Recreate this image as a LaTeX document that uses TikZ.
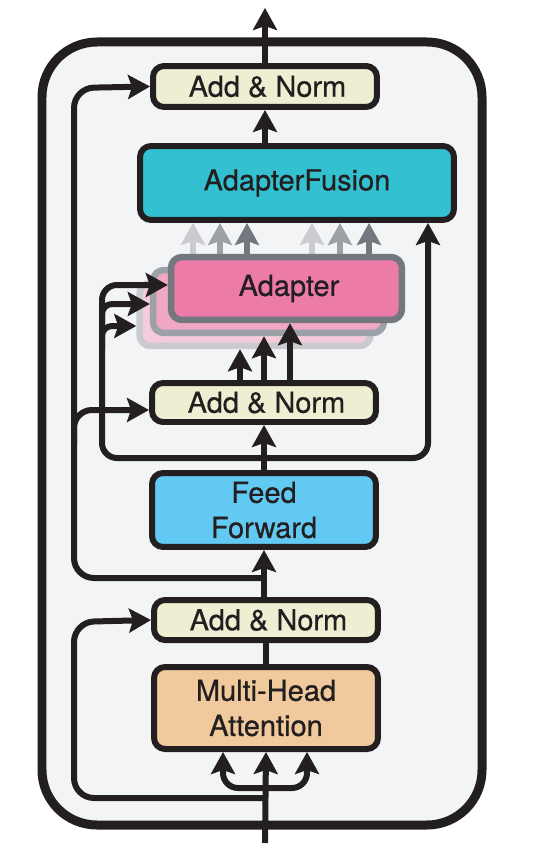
\documentclass[tikz,border=0pt]{standalone}
\usepackage{fontspec}
\setmainfont{TeX Gyre Heros}[FakeBold=0.6]
\usetikzlibrary{arrows.meta}

\definecolor{ink}{HTML}{231F20}
\definecolor{panel}{HTML}{F3F4F6}
\definecolor{normfill}{HTML}{EEEFD2}
\definecolor{fusionfill}{HTML}{33C1D1}
\definecolor{ffill}{HTML}{62C9F2}
\definecolor{attnfill}{HTML}{F0C99C}
\definecolor{adaptA}{HTML}{EC7BA8}
\definecolor{adaptB}{HTML}{F0A7C4}
\definecolor{adaptC}{HTML}{F5CADB}
\definecolor{greyA}{HTML}{72787E}
\definecolor{greyB}{HTML}{9BA1A7}
\definecolor{greyC}{HTML}{C9CBCE}

\begin{document}
\begin{tikzpicture}[x=0.02cm, y=-0.02cm,
  box/.style={draw=ink, line width=0.12cm, rounded corners=0.22cm, text=ink,
    font=\fontsize{16.5}{20}\selectfont, align=center, inner sep=0pt,
    minimum width=4.48cm},
  adbox/.style={box, line width=0.13cm, minimum width=4.62cm, minimum height=1.26cm},
  arr/.style={draw=ink, line width=0.12cm,
    -{Stealth[length=0.44cm, width=0.48cm, inset=0.08cm]}},
  line/.style={draw=ink, line width=0.12cm}]
\useasboundingbox (0,0) rectangle (534,851);

% Outer block
\draw[line width=0.18cm, draw=ink, fill=panel, rounded corners=1.1cm] (42,42) rectangle (482,825);

% Boxes
\node[box, fill=normfill, minimum height=0.82cm] (normtop) at (265,86.5) {\hspace{0.1cm}Add \& Norm};
\node[box, fill=fusionfill, minimum width=6.28cm, minimum height=1.48cm] (fusion) at (297,183) {AdapterFusion};
\node[box, fill=normfill, minimum height=0.78cm] (normmid) at (264,402.5) {\hspace{0.1cm}Add \& Norm};
\node[box, fill=ffill, minimum height=1.48cm] (ffwd) at (264,510) {Feed\\Forward};
\node[box, fill=normfill, minimum height=0.8cm] (normbot) at (266,620) {\hspace{0.1cm}Add \& Norm};
\node[box, fill=attnfill, minimum height=1.64cm] (attn) at (266,708) {Multi-Head\\Attention};

% Adapter outputs into the fusion layer
\foreach \x/\c in {193/greyC, 220/greyB, 247/greyA, 312/greyC, 340/greyB, 369/greyA}
  \draw[arr, draw=\c, -{Stealth[length=0.44cm, width=0.48cm, inset=0.08cm, \c]}]
    (\x,270) -- (fusion.south -| \x,0);

% Stacked adapters
\node[adbox, draw=greyC, fill=adaptC] (adback) at (255,314.5) {};
\node[adbox, draw=greyB, fill=adaptB] (admid) at (268.5,301.5) {};
\node[adbox, draw=greyA, fill=adaptA] (adfront) at (286.5,288.5) {\hspace{0.1cm}Adapter};

% Helper points on the main path
\coordinate (input) at (265,843);
\coordinate (output) at (265,8);
\coordinate (split) at (265,788);
\coordinate (resA) at (265,798);
\coordinate (resB) at (265,578);
\coordinate (resC) at (265,458);

% Main path
\draw[arr] (input) -- (attn.south);
\draw[line] (attn.north) -- (normbot.south);
\draw[arr] (normbot.north -| ffwd.south) -- (ffwd.south);
\draw[arr] (ffwd.north) -- (normmid.south);
\draw[arr] (fusion.north -| normtop.south) -- (normtop.south);
\draw[arr] (normtop.north) -- (output);

% Attention inputs
\draw[arr, rounded corners=0.3cm] (split) -| (attn.south -| 223,0);
\draw[arr, rounded corners=0.3cm] (split) -| (attn.south -| 307,0);

% Residual connections
\draw[arr, rounded corners=0.4cm] (resA) -| (74,622) -- (normbot.west);
\draw[arr, rounded corners=0.4cm] (resB) -| (74,88) -- (normtop.west);
\draw[arr, rounded corners=0.36cm] (74,445) |- (normmid.west |- 0,410);

% Adapter inputs
\draw[arr, rounded corners=0.3cm] (resC) -| (102,285) -- (adfront.west |- 0,285);
\draw[arr, rounded corners=0.2cm] (102,330) |- (admid.west |- 0,304);
\draw[arr, rounded corners=0.2cm] (102,350) |- (adback.west |- 0,326);
\draw[arr, rounded corners=0.3cm] (resC) -| (fusion.south -| 428,0);

% Outputs of the lower Add & Norm into the adapters
\draw[arr] (normmid.north -| 240,0) -- (adback.south -| 240,0);
\draw[arr] (normmid.north -| 264,0) -- (admid.south -| 264,0);
\draw[arr] (normmid.north -| 290,0) -- (adfront.south -| 290,0);
\end{tikzpicture}
\end{document}
